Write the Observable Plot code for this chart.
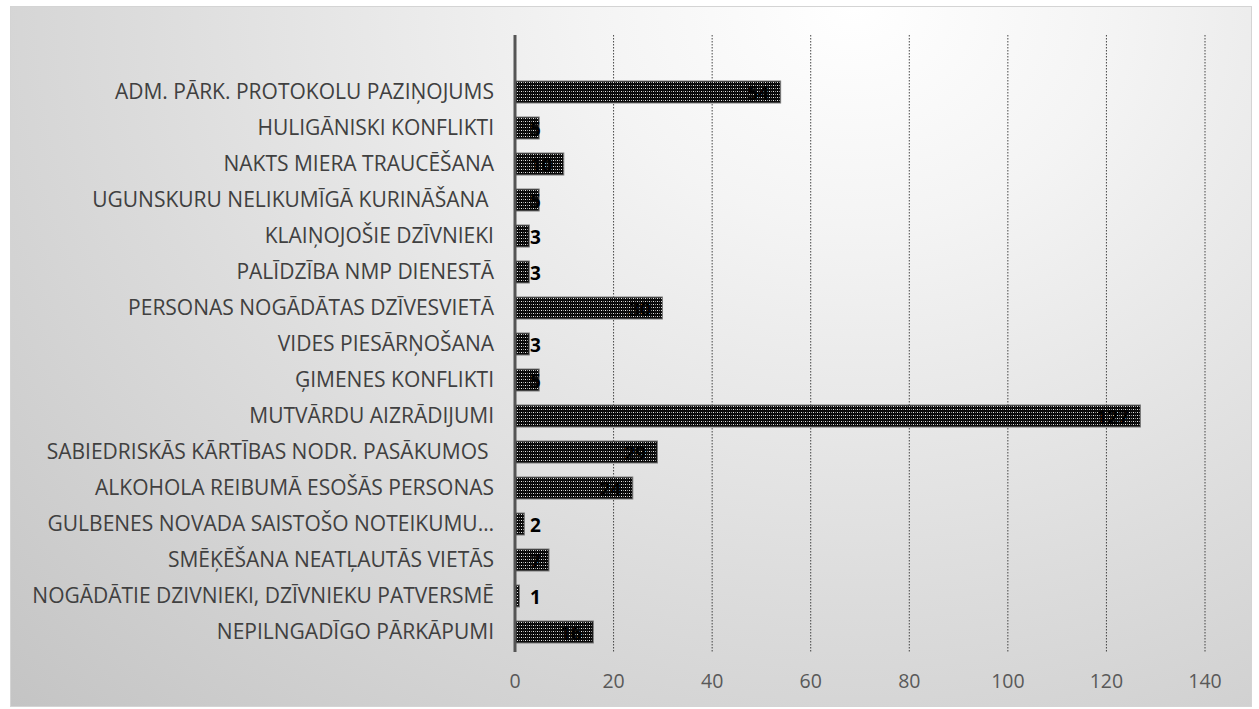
<!DOCTYPE html>
<html>
<head>
<meta charset="utf-8">
<script src="https://cdn.jsdelivr.net/npm/d3@7"></script>
<script src="https://cdn.jsdelivr.net/npm/@observablehq/plot@0.6"></script>
<style>
  html, body { margin: 0; padding: 0; background: #ffffff; }
  #wrap { position: relative; width: 1259px; height: 709px; overflow: hidden; }
  #frame {
    position: absolute; left: 10px; top: 6px; width: 1242px; height: 701px;
    border: 1px solid #d4d4d4; box-sizing: border-box;
    background: radial-gradient(farthest-corner at 68% 0%, #ffffff 0%, #f4f4f4 22%, #dcdcdc 60%, #c4c4c4 100%);
  }
  #chart { position: absolute; left: 0; top: 0; }
</style>
</head>
<body>
<div id="wrap"><div id="frame"></div><div id="chart"></div></div>
<script>
// Categories from top to bottom (the first, blank slot is empty in the original)
const categories = [
  " ",
  "ADM. PĀRK. PROTOKOLU PAZIŅOJUMS",
  "HULIGĀNISKI KONFLIKTI",
  "NAKTS MIERA TRAUCĒŠANA",
  "UGUNSKURU NELIKUMĪGĀ KURINĀŠANA ",
  "KLAIŅOJOŠIE DZĪVNIEKI",
  "PALĪDZĪBA NMP DIENESTĀ",
  "PERSONAS NOGĀDĀTAS DZĪVESVIETĀ",
  "VIDES PIESĀRŅOŠANA",
  "ĢIMENES KONFLIKTI",
  "MUTVĀRDU AIZRĀDIJUMI",
  "SABIEDRISKĀS KĀRTĪBAS NODR. PASĀKUMOS ",
  "ALKOHOLA REIBUMĀ ESOŠĀS PERSONAS",
  "GULBENES NOVADA SAISTOŠO NOTEIKUMU…",
  "SMĒĶĒŠANA NEATĻAUTĀS VIETĀS",
  "NOGĀDĀTIE DZIVNIEKI, DZĪVNIEKU PATVERSMĒ",
  "NEPILNGADĪGO PĀRKĀPUMI"
];
const values = [null, 54, 5, 10, 5, 3, 3, 30, 3, 5, 127, 29, 24, 2, 7, 1, 16];
const xTicks = [0, 20, 40, 60, 80, 100, 120, 140];

const data = categories.map((c, i) => ({category: c, value: values[i]})).filter(d => d.value != null);

const defs = () => {
  const g = d3.create("svg:defs");
  const p = g.append("pattern").attr("id", "dots").attr("patternUnits", "userSpaceOnUse")
    .attr("width", 4).attr("height", 3);
  p.append("rect").attr("width", 4).attr("height", 3).attr("fill", "#0a0a0a");
  p.append("rect").attr("x", 1).attr("y", 1).attr("width", 1).attr("height", 1).attr("fill", "#e8e8e8");
  p.append("rect").attr("x", 3).attr("y", 1).attr("width", 1).attr("height", 1).attr("fill", "#8a8a8a");
  return g.node();
};

const chart = Plot.plot({
  width: 1259,
  height: 709,
  marginLeft: 514.5,
  marginRight: 54.5,
  marginTop: 35,
  marginBottom: 57,
  style: {background: "transparent", fontFamily: "'Open Sans', sans-serif"},
  x: {domain: [0, 140], ticks: xTicks},
  y: {domain: categories, paddingInner: 0.39, paddingOuter: 0.195, align: 0.5},
  marks: [
    defs,
    Plot.gridX(xTicks.slice(1), {stroke: "#333", strokeOpacity: 0.9, strokeDasharray: "1.5,1.5", strokeWidth: 1}),
    Plot.barX(data, {x: "value", y: "category", fill: "url(#dots)", stroke: "#7a7a7a", strokeWidth: 1}),
    Plot.ruleX([0], {stroke: "#555555", strokeWidth: 3}),
    Plot.axisY({tickSize: 0, tickPadding: 21, fontSize: 21, color: "#404040", label: null,
      tickFormat: d => d.trim() === "" ? "" : d}),
    Plot.axisX(xTicks, {tickSize: 0, tickPadding: 22, fontSize: 19.5, color: "#595959", label: null}),
    Plot.text(data.filter(d => d.value >= 10), {x: "value", y: "category", text: d => String(d.value),
      textAnchor: "end", dx: -12, dy: 1, fontWeight: "bold", fontSize: 19, fill: "#000"}),
    Plot.text(data.filter(d => d.value < 10), {x: () => 0, y: "category", text: d => String(d.value),
      textAnchor: "start", dx: 15, dy: 1, fontWeight: "bold", fontSize: 19, fill: "#000"})
  ]
});
document.getElementById("chart").appendChild(chart);
</script>
</body>
</html>
